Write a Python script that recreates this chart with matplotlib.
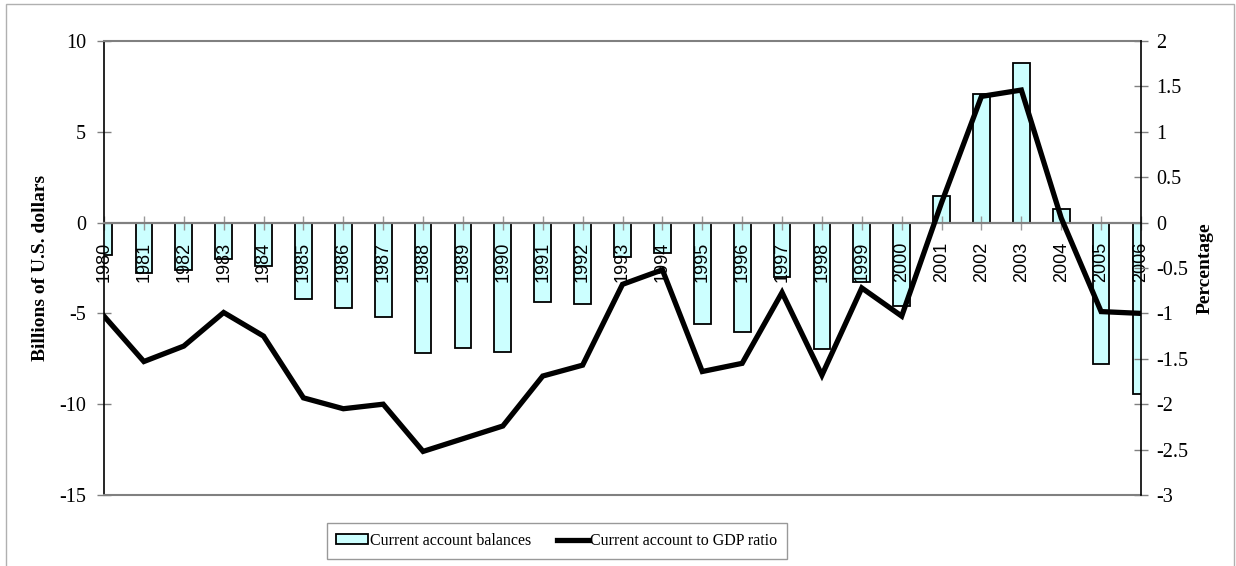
import matplotlib
matplotlib.use("Agg")
import matplotlib.pyplot as plt
from matplotlib.patches import Rectangle
from matplotlib.lines import Line2D

years = [str(y) for y in range(1980, 2007)]
balances = [-1.8, -2.75, -2.6, -2.0, -2.4, -4.2, -4.7, -5.2, -7.2, -6.9,
            -7.1, -4.35, -4.5, -1.9, -1.7, -5.6, -6.0, -3.0, -6.95, -3.25,
            -4.6, 1.44, 7.07, 8.8, 0.76, -7.8, -9.45]
gdp_ratio = [-1.03, -1.53, -1.36, -0.99, -1.25, -1.93, -2.05, -2.0, -2.52, -2.38,
             -2.24, -1.69, -1.57, -0.68, -0.52, -1.64, -1.55, -0.77, -1.68, -0.72,
             -1.03, 0.22, 1.39, 1.46, 0.05, -0.98, -1.0]
left_ticks = [10, 5, 0, -5, -10, -15]
right_ticks = [2, 1.5, 1, 0.5, 0, -0.5, -1, -1.5, -2, -2.5, -3]

serif = "Liberation Serif"
sans = "Liberation Sans"

fig = plt.figure(figsize=(12.36, 5.66), dpi=100)
ax = fig.add_axes([104/1236, 1-495/566, (1141-104)/1236, (495-41)/566])
ax2 = ax.twinx()

x = list(range(len(years)))
ax.bar(x, balances, width=0.42, color="#CCFFFF", edgecolor="black", linewidth=1.3, zorder=1)
ax.set_xlim(0, len(years)-1)
ax.set_ylim(-15, 10)
ax.set_yticks(left_ticks)
ax.set_yticklabels([str(t) for t in left_ticks], fontfamily=serif, fontsize=14.5)

ax.spines['bottom'].set_position(('data', 0))
ax.spines['bottom'].set_color('#808080')
ax.spines['bottom'].set_linewidth(1.6)
ax.spines['top'].set_color('#808080')
ax.spines['top'].set_linewidth(1.5)
ax.spines['left'].set_color('black')
ax.spines['left'].set_linewidth(1.2)
ax.spines['right'].set_visible(False)
ax.axhline(-15, color='#808080', lw=1.5, clip_on=False, zorder=3)

ax.set_xticks(x)
ax.set_xticklabels(years, rotation=90, fontfamily=sans, fontsize=13, va='top', ha='center')
ax.tick_params(axis='x', direction='inout', length=10, color='#999999', width=1, pad=9)
ax.tick_params(axis='y', direction='inout', length=10, color='#808080', width=1, pad=8)
ax.set_ylabel("Billions of U.S. dollars", fontfamily=serif, fontsize=14, fontweight='bold', labelpad=7)

ax2.plot(x, gdp_ratio, color='black', lw=3.8, solid_joinstyle='miter', zorder=5)
ax2.set_ylim(-3, 2)
ax2.set_yticks(right_ticks)
ax2.set_yticklabels([f"{t:g}" for t in right_ticks], fontfamily=serif, fontsize=14.5)
ax2.tick_params(axis='y', direction='inout', length=10, color='#808080', width=1, pad=6)
for s in ['left', 'top', 'bottom']:
    ax2.spines[s].set_visible(False)
ax2.spines['right'].set_color('black')
ax2.spines['right'].set_linewidth(1.2)
ax2.set_ylabel("Percentage", fontfamily=serif, fontsize=14, fontweight='bold', rotation=90, labelpad=6)

handles = [Rectangle((0, 0), 1, 1, facecolor="#CCFFFF", edgecolor='black', linewidth=1.3),
           Line2D([0], [0], color='black', lw=3.8)]
leg = fig.legend(handles, ["Current account balances", "Current account to GDP ratio"],
                 loc='center', bbox_to_anchor=(557/1236, 1-541/566), ncol=2,
                 prop={'family': serif, 'size': 11.5}, frameon=True, fancybox=False,
                 edgecolor='#808080', handlelength=2.0, handleheight=0.6, handletextpad=0.1,
                 columnspacing=1.6, borderpad=0.6)
leg.get_frame().set_linewidth(1.0)

fig.patches.append(Rectangle((6/1236, -0.01), (1234-6)/1236, 1.01 - 4/566, transform=fig.transFigure,
                             fill=False, edgecolor='#b0b0b0', lw=1.0))

fig.savefig("out.png", dpi=100)
